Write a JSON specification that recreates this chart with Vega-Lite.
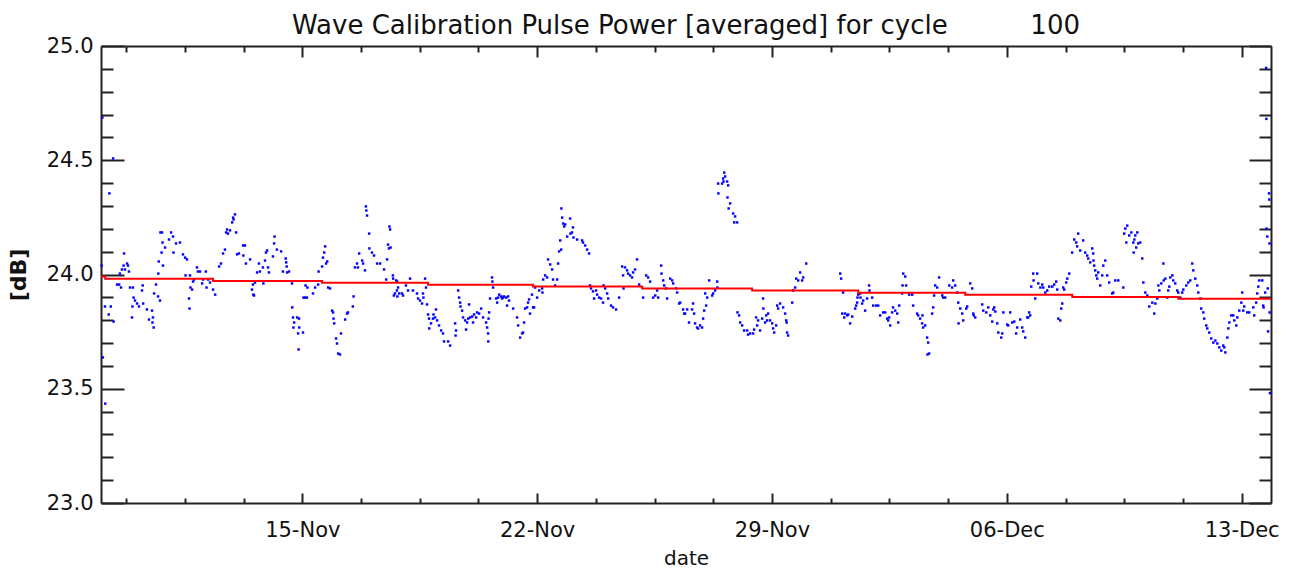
{
  "$schema": "https://vega.github.io/schema/vega-lite/v6.json",
  "width": 1170,
  "height": 457,
  "autosize": "none",
  "padding": {"left": 101, "top": 46, "right": 30, "bottom": 67},
  "background": "#ffffff",
  "config": {"view": {"stroke": null}, "font": "DejaVu Sans"},
  "title": {"text": "Wave Calibration Pulse Power [averaged] for cycle\u00a0\u00a0\u00a0\u00a0\u00a0\u00a0\u00a0\u00a0\u00a0\u00a0100", "font": "DejaVu Sans", "fontSize": 26, "fontWeight": "normal", "color": "#111111", "anchor": "middle", "offset": -4},
  "datasets": {
    "pts": [
      {"t":"2004-11-09T00:30","v":24.039},{"t":"2004-11-09T01:00","v":24.687},{"t":"2004-11-09T01:20","v":23.637},{"t":"2004-11-09T02:50","v":23.86},{"t":"2004-11-09T03:00","v":23.435},{"t":"2004-11-09T05:30","v":23.825},{"t":"2004-11-09T06:00","v":24.355},{"t":"2004-11-09T07:00","v":23.86},{"t":"2004-11-09T08:40","v":24.508},{"t":"2004-11-09T09:00","v":23.794},{"t":"2004-11-09T11:30","v":23.956},{"t":"2004-11-09T13:00","v":23.956},{"t":"2004-11-09T13:30","v":24.004},{"t":"2004-11-09T14:20","v":23.943},{"t":"2004-11-09T15:00","v":24.022},{"t":"2004-11-09T16:10","v":24.039},{"t":"2004-11-09T16:30","v":24.092},{"t":"2004-11-09T17:10","v":24.022},{"t":"2004-11-09T18:40","v":24.048},{"t":"2004-11-09T19:20","v":24.039},{"t":"2004-11-09T20:00","v":24.013},{"t":"2004-11-09T20:45","v":23.943},{"t":"2004-11-09T22:10","v":23.812},{"t":"2004-11-09T22:30","v":23.86},{"t":"2004-11-09T22:50","v":23.943},{"t":"2004-11-09T23:20","v":23.899},
      {"t":"2004-11-10T00:20","v":23.886},{"t":"2004-11-10T01:50","v":23.873},{"t":"2004-11-10T03:10","v":23.86},{"t":"2004-11-10T05:20","v":23.93},{"t":"2004-11-10T05:50","v":23.952},{"t":"2004-11-10T06:10","v":23.873},{"t":"2004-11-10T08:50","v":23.847},{"t":"2004-11-10T10:20","v":23.803},{"t":"2004-11-10T12:30","v":23.842},{"t":"2004-11-10T12:50","v":23.79},{"t":"2004-11-10T13:10","v":23.812},{"t":"2004-11-10T13:40","v":23.768},{"t":"2004-11-10T14:00","v":23.917},{"t":"2004-11-10T15:20","v":23.956},{"t":"2004-11-10T16:50","v":23.904},{"t":"2004-11-10T17:00","v":24.004},{"t":"2004-11-10T17:20","v":24.057},{"t":"2004-11-10T18:10","v":23.886},{"t":"2004-11-10T18:30","v":24.184},{"t":"2004-11-10T19:20","v":24.096},{"t":"2004-11-10T19:40","v":24.184},{"t":"2004-11-10T20:00","v":24.14},{"t":"2004-11-10T20:20","v":24.039},{"t":"2004-11-10T21:50","v":24.118},
      {"t":"2004-11-11T00:40","v":24.153},{"t":"2004-11-11T02:10","v":24.184},{"t":"2004-11-11T03:30","v":24.166},{"t":"2004-11-11T03:50","v":24.096},{"t":"2004-11-11T05:40","v":24.136},{"t":"2004-11-11T08:30","v":24.14},{"t":"2004-11-11T10:40","v":24.088},{"t":"2004-11-11T12:10","v":24.074},{"t":"2004-11-11T12:30","v":23.996},{"t":"2004-11-11T13:30","v":24.066},{"t":"2004-11-11T15:00","v":23.895},{"t":"2004-11-11T15:20","v":23.851},{"t":"2004-11-11T15:40","v":23.996},{"t":"2004-11-11T16:00","v":23.943},{"t":"2004-11-11T17:10","v":23.934},{"t":"2004-11-11T17:50","v":23.969},{"t":"2004-11-11T18:30","v":23.978},{"t":"2004-11-11T20:40","v":24.031},{"t":"2004-11-11T21:20","v":24.013},{"t":"2004-11-11T22:50","v":24.013},
      {"t":"2004-11-12T00:20","v":23.961},{"t":"2004-11-12T01:00","v":23.978},{"t":"2004-11-12T03:00","v":24.013},{"t":"2004-11-12T03:30","v":23.943},{"t":"2004-11-12T04:40","v":23.978},{"t":"2004-11-12T06:00","v":23.965},{"t":"2004-11-12T08:10","v":23.934},{"t":"2004-11-12T09:40","v":23.912},{"t":"2004-11-12T12:30","v":24.035},{"t":"2004-11-12T13:50","v":24.048},{"t":"2004-11-12T15:20","v":24.092},{"t":"2004-11-12T16:40","v":24.109},{"t":"2004-11-12T17:30","v":24.184},{"t":"2004-11-12T18:10","v":24.197},{"t":"2004-11-12T18:50","v":24.179},{"t":"2004-11-12T20:20","v":24.193},{"t":"2004-11-12T21:50","v":24.228},{"t":"2004-11-12T22:30","v":24.249},{"t":"2004-11-12T22:50","v":24.241},{"t":"2004-11-12T23:50","v":24.263},
      {"t":"2004-11-13T00:40","v":24.184},{"t":"2004-11-13T01:20","v":24.088},{"t":"2004-11-13T02:40","v":24.092},{"t":"2004-11-13T05:40","v":24.127},{"t":"2004-11-13T05:50","v":24.083},{"t":"2004-11-13T07:00","v":24.127},{"t":"2004-11-13T07:40","v":24.048},{"t":"2004-11-13T10:40","v":24.066},{"t":"2004-11-13T12:00","v":23.934},{"t":"2004-11-13T12:40","v":23.956},{"t":"2004-11-13T13:00","v":23.912},{"t":"2004-11-13T13:30","v":23.908},{"t":"2004-11-13T14:10","v":23.965},{"t":"2004-11-13T15:40","v":24.009},{"t":"2004-11-13T17:00","v":24.048},{"t":"2004-11-13T17:40","v":24.013},{"t":"2004-11-13T19:50","v":24.031},{"t":"2004-11-13T20:10","v":23.961},{"t":"2004-11-13T21:20","v":24.061},{"t":"2004-11-13T22:00","v":24.096},{"t":"2004-11-13T22:50","v":24.105},{"t":"2004-11-13T23:30","v":24.031},
      {"t":"2004-11-14T00:10","v":24.009},{"t":"2004-11-14T03:00","v":24.079},{"t":"2004-11-14T03:50","v":24.136},{"t":"2004-11-14T04:10","v":24.166},{"t":"2004-11-14T05:50","v":24.109},{"t":"2004-11-14T08:50","v":24.101},{"t":"2004-11-14T10:10","v":24.013},{"t":"2004-11-14T12:10","v":24.07},{"t":"2004-11-14T12:30","v":24.053},{"t":"2004-11-14T12:50","v":24.035},{"t":"2004-11-14T13:10","v":24.009},{"t":"2004-11-14T14:30","v":24.013},{"t":"2004-11-14T16:40","v":23.961},{"t":"2004-11-14T16:50","v":23.856},{"t":"2004-11-14T17:20","v":23.812},{"t":"2004-11-14T17:40","v":23.768},{"t":"2004-11-14T18:10","v":23.79},{"t":"2004-11-14T20:20","v":23.812},{"t":"2004-11-14T21:00","v":23.742},{"t":"2004-11-14T21:20","v":23.672},{"t":"2004-11-14T21:40","v":23.807},{"t":"2004-11-14T21:50","v":23.768},
      {"t":"2004-11-15T00:30","v":23.746},{"t":"2004-11-15T00:50","v":23.899},{"t":"2004-11-15T02:00","v":23.899},{"t":"2004-11-15T02:20","v":23.952},{"t":"2004-11-15T03:20","v":23.899},{"t":"2004-11-15T03:40","v":23.943},{"t":"2004-11-15T07:40","v":23.917},{"t":"2004-11-15T09:10","v":23.943},{"t":"2004-11-15T11:20","v":23.956},{"t":"2004-11-15T11:40","v":24.013},{"t":"2004-11-15T14:10","v":24.035},{"t":"2004-11-15T14:50","v":24.074},{"t":"2004-11-15T15:40","v":24.096},{"t":"2004-11-15T16:20","v":24.123},{"t":"2004-11-15T17:00","v":24.048},{"t":"2004-11-15T17:50","v":24.057},{"t":"2004-11-15T18:30","v":23.943},{"t":"2004-11-15T19:50","v":23.939},{"t":"2004-11-15T21:20","v":23.842},{"t":"2004-11-15T22:00","v":23.834},{"t":"2004-11-15T22:20","v":23.807},{"t":"2004-11-15T22:50","v":23.786},
      {"t":"2004-11-16T00:10","v":23.72},{"t":"2004-11-16T00:50","v":23.698},{"t":"2004-11-16T01:40","v":23.654},{"t":"2004-11-16T03:00","v":23.65},{"t":"2004-11-16T03:40","v":23.742},{"t":"2004-11-16T06:40","v":23.803},{"t":"2004-11-16T08:00","v":23.829},{"t":"2004-11-16T08:40","v":23.834},{"t":"2004-11-16T12:10","v":23.86},{"t":"2004-11-16T12:40","v":23.904},{"t":"2004-11-16T13:40","v":24.031},{"t":"2004-11-16T15:10","v":24.048},{"t":"2004-11-16T15:50","v":24.031},{"t":"2004-11-16T16:40","v":24.092},{"t":"2004-11-16T18:50","v":24.061},{"t":"2004-11-16T19:30","v":24.048},{"t":"2004-11-16T20:50","v":24.018},{"t":"2004-11-16T21:30","v":24.298},{"t":"2004-11-16T21:50","v":24.28},{"t":"2004-11-16T22:20","v":24.258},{"t":"2004-11-16T23:50","v":24.179},
      {"t":"2004-11-17T00:00","v":24.114},{"t":"2004-11-17T01:50","v":24.096},{"t":"2004-11-17T03:20","v":24.083},{"t":"2004-11-17T05:30","v":24.048},{"t":"2004-11-17T07:40","v":24.048},{"t":"2004-11-17T10:30","v":24.022},{"t":"2004-11-17T12:00","v":23.978},{"t":"2004-11-17T12:40","v":24.066},{"t":"2004-11-17T13:20","v":24.131},{"t":"2004-11-17T14:00","v":24.114},{"t":"2004-11-17T14:20","v":24.21},{"t":"2004-11-17T14:50","v":24.197},{"t":"2004-11-17T15:10","v":24.118},{"t":"2004-11-17T16:50","v":23.996},{"t":"2004-11-17T17:00","v":23.982},{"t":"2004-11-17T17:30","v":23.908},{"t":"2004-11-17T18:20","v":23.917},{"t":"2004-11-17T19:10","v":23.974},{"t":"2004-11-17T19:40","v":23.93},{"t":"2004-11-17T19:50","v":23.969},{"t":"2004-11-17T20:00","v":23.904},{"t":"2004-11-17T20:30","v":23.943},{"t":"2004-11-17T21:20","v":23.917},{"t":"2004-11-17T23:20","v":23.917},
      {"t":"2004-11-18T00:05","v":23.908},{"t":"2004-11-18T02:10","v":23.952},{"t":"2004-11-18T03:40","v":23.93},{"t":"2004-11-18T05:05","v":23.982},{"t":"2004-11-18T07:10","v":23.93},{"t":"2004-11-18T10:05","v":23.917},{"t":"2004-11-18T10:50","v":23.895},{"t":"2004-11-18T12:15","v":23.886},{"t":"2004-11-18T13:40","v":23.873},{"t":"2004-11-18T14:20","v":23.917},{"t":"2004-11-18T14:40","v":23.899},{"t":"2004-11-18T15:50","v":23.982},{"t":"2004-11-18T16:30","v":23.943},{"t":"2004-11-18T17:15","v":23.869},{"t":"2004-11-18T18:00","v":23.825},{"t":"2004-11-18T18:40","v":23.807},{"t":"2004-11-18T18:50","v":23.764},{"t":"2004-11-18T20:05","v":23.786},{"t":"2004-11-18T21:30","v":23.807},{"t":"2004-11-18T21:50","v":23.825},{"t":"2004-11-18T23:00","v":23.812},{"t":"2004-11-18T23:40","v":23.847},
      {"t":"2004-11-19T00:25","v":23.799},{"t":"2004-11-19T01:50","v":23.777},{"t":"2004-11-19T03:20","v":23.755},{"t":"2004-11-19T04:40","v":23.742},{"t":"2004-11-19T05:25","v":23.707},{"t":"2004-11-19T08:20","v":23.707},{"t":"2004-11-19T09:45","v":23.689},{"t":"2004-11-19T13:20","v":23.786},{"t":"2004-11-19T13:40","v":23.733},{"t":"2004-11-19T14:00","v":23.755},{"t":"2004-11-19T15:30","v":23.93},{"t":"2004-11-19T16:10","v":23.899},{"t":"2004-11-19T16:55","v":23.877},{"t":"2004-11-19T17:10","v":23.86},{"t":"2004-11-19T18:20","v":23.842},{"t":"2004-11-19T19:00","v":23.812},{"t":"2004-11-19T20:30","v":23.799},{"t":"2004-11-19T21:10","v":23.759},{"t":"2004-11-19T21:55","v":23.79},{"t":"2004-11-19T22:40","v":23.807},{"t":"2004-11-19T23:20","v":23.869},
      {"t":"2004-11-20T00:05","v":23.812},{"t":"2004-11-20T01:30","v":23.816},{"t":"2004-11-20T02:10","v":23.79},{"t":"2004-11-20T02:55","v":23.825},{"t":"2004-11-20T04:20","v":23.812},{"t":"2004-11-20T05:05","v":23.834},{"t":"2004-11-20T06:30","v":23.829},{"t":"2004-11-20T07:55","v":23.851},{"t":"2004-11-20T09:20","v":23.812},{"t":"2004-11-20T11:30","v":23.79},{"t":"2004-11-20T12:15","v":23.768},{"t":"2004-11-20T12:55","v":23.742},{"t":"2004-11-20T13:05","v":23.707},{"t":"2004-11-20T13:15","v":23.807},{"t":"2004-11-20T13:40","v":23.834},{"t":"2004-11-20T14:20","v":23.895},{"t":"2004-11-20T15:45","v":23.987},{"t":"2004-11-20T16:00","v":23.969},{"t":"2004-11-20T16:30","v":23.943},{"t":"2004-11-20T18:40","v":23.895},{"t":"2004-11-20T19:25","v":23.877},{"t":"2004-11-20T20:05","v":23.899},{"t":"2004-11-20T20:50","v":23.912},{"t":"2004-11-20T22:15","v":23.904},{"t":"2004-11-20T22:55","v":23.895},{"t":"2004-11-20T23:35","v":23.899},
      {"t":"2004-11-21T00:20","v":23.904},{"t":"2004-11-21T01:50","v":23.899},{"t":"2004-11-21T02:30","v":23.864},{"t":"2004-11-21T03:15","v":23.904},{"t":"2004-11-21T03:55","v":23.886},{"t":"2004-11-21T06:50","v":23.851},{"t":"2004-11-21T09:40","v":23.812},{"t":"2004-11-21T10:25","v":23.777},{"t":"2004-11-21T11:50","v":23.724},{"t":"2004-11-21T13:15","v":23.742},{"t":"2004-11-21T13:55","v":23.746},{"t":"2004-11-21T14:40","v":23.79},{"t":"2004-11-21T15:25","v":23.851},{"t":"2004-11-21T16:50","v":23.856},{"t":"2004-11-21T17:30","v":23.877},{"t":"2004-11-21T18:15","v":23.891},{"t":"2004-11-21T18:55","v":23.829},{"t":"2004-11-21T20:20","v":23.912},{"t":"2004-11-21T21:05","v":23.856},{"t":"2004-11-21T21:50","v":23.856},{"t":"2004-11-21T22:30","v":23.943},
      {"t":"2004-11-22T00:00","v":23.899},{"t":"2004-11-22T01:25","v":23.93},{"t":"2004-11-22T03:35","v":23.939},{"t":"2004-11-22T03:50","v":23.921},{"t":"2004-11-22T04:20","v":23.978},{"t":"2004-11-22T05:45","v":23.996},{"t":"2004-11-22T07:10","v":23.987},{"t":"2004-11-22T07:50","v":24.066},{"t":"2004-11-22T09:20","v":24.044},{"t":"2004-11-22T10:45","v":24.022},{"t":"2004-11-22T11:25","v":23.978},{"t":"2004-11-22T12:50","v":23.952},{"t":"2004-11-22T14:20","v":23.978},{"t":"2004-11-22T15:00","v":24.048},{"t":"2004-11-22T15:45","v":24.101},{"t":"2004-11-22T16:30","v":24.149},{"t":"2004-11-22T17:10","v":24.109},{"t":"2004-11-22T17:20","v":24.289},{"t":"2004-11-22T17:55","v":24.249},{"t":"2004-11-22T18:35","v":24.223},{"t":"2004-11-22T19:20","v":24.21},{"t":"2004-11-22T20:05","v":24.219},{"t":"2004-11-22T21:30","v":24.166},{"t":"2004-11-22T23:35","v":24.245},{"t":"2004-11-22T23:50","v":24.179},
      {"t":"2004-11-23T01:00","v":24.184},{"t":"2004-11-23T01:40","v":24.206},{"t":"2004-11-23T02:00","v":24.162},{"t":"2004-11-23T04:35","v":24.153},{"t":"2004-11-23T08:10","v":24.149},{"t":"2004-11-23T08:50","v":24.14},{"t":"2004-11-23T10:20","v":24.127},{"t":"2004-11-23T11:45","v":24.109},{"t":"2004-11-23T13:10","v":24.092},{"t":"2004-11-23T13:50","v":23.952},{"t":"2004-11-23T14:35","v":23.939},{"t":"2004-11-23T16:00","v":23.926},{"t":"2004-11-23T16:45","v":23.895},{"t":"2004-11-23T18:10","v":23.93},{"t":"2004-11-23T18:55","v":23.912},{"t":"2004-11-23T20:20","v":23.899},{"t":"2004-11-23T21:45","v":23.895},{"t":"2004-11-23T23:10","v":23.877},{"t":"2004-11-23T23:30","v":23.952},
      {"t":"2004-11-24T00:40","v":23.939},{"t":"2004-11-24T02:05","v":23.917},{"t":"2004-11-24T02:50","v":23.895},{"t":"2004-11-24T04:55","v":23.864},{"t":"2004-11-24T06:20","v":23.856},{"t":"2004-11-24T08:30","v":23.847},{"t":"2004-11-24T10:40","v":23.899},{"t":"2004-11-24T12:50","v":24.035},{"t":"2004-11-24T13:30","v":23.996},{"t":"2004-11-24T13:50","v":23.939},{"t":"2004-11-24T14:55","v":24.031},{"t":"2004-11-24T16:20","v":24.018},{"t":"2004-11-24T17:05","v":24.004},{"t":"2004-11-24T18:30","v":23.996},{"t":"2004-11-24T19:55","v":23.987},{"t":"2004-11-24T20:40","v":24.009},{"t":"2004-11-24T22:05","v":24.022},{"t":"2004-11-24T23:30","v":24.066},
      {"t":"2004-11-25T01:00","v":23.956},{"t":"2004-11-25T03:50","v":23.899},{"t":"2004-11-25T06:00","v":23.996},{"t":"2004-11-25T07:25","v":23.987},{"t":"2004-11-25T08:50","v":23.969},{"t":"2004-11-25T11:00","v":23.899},{"t":"2004-11-25T12:30","v":23.908},{"t":"2004-11-25T13:50","v":23.93},{"t":"2004-11-25T14:35","v":23.899},{"t":"2004-11-25T16:45","v":24.039},{"t":"2004-11-25T17:00","v":24.004},{"t":"2004-11-25T18:10","v":23.974},{"t":"2004-11-25T18:55","v":23.952},{"t":"2004-11-25T20:20","v":23.939},{"t":"2004-11-25T21:00","v":23.895},{"t":"2004-11-25T23:10","v":23.982},
      {"t":"2004-11-26T00:35","v":23.974},{"t":"2004-11-26T01:20","v":23.961},{"t":"2004-11-26T03:25","v":23.939},{"t":"2004-11-26T04:10","v":23.921},{"t":"2004-11-26T05:35","v":23.873},{"t":"2004-11-26T06:20","v":23.877},{"t":"2004-11-26T08:25","v":23.847},{"t":"2004-11-26T09:10","v":23.829},{"t":"2004-11-26T09:50","v":23.829},{"t":"2004-11-26T11:20","v":23.847},{"t":"2004-11-26T12:40","v":23.79},{"t":"2004-11-26T14:50","v":23.847},{"t":"2004-11-26T15:35","v":23.873},{"t":"2004-11-26T16:20","v":23.829},{"t":"2004-11-26T17:00","v":23.786},{"t":"2004-11-26T18:25","v":23.768},{"t":"2004-11-26T19:10","v":23.764},{"t":"2004-11-26T20:35","v":23.777},{"t":"2004-11-26T22:00","v":23.768},{"t":"2004-11-26T22:45","v":23.807},{"t":"2004-11-26T23:30","v":23.842},
      {"t":"2004-11-27T00:15","v":23.917},{"t":"2004-11-27T00:55","v":23.864},{"t":"2004-11-27T01:40","v":23.899},{"t":"2004-11-27T03:05","v":23.974},{"t":"2004-11-27T05:15","v":23.908},{"t":"2004-11-27T05:55","v":23.917},{"t":"2004-11-27T07:20","v":23.93},{"t":"2004-11-27T08:50","v":23.969},{"t":"2004-11-27T09:00","v":23.943},{"t":"2004-11-27T09:30","v":24.398},{"t":"2004-11-27T09:40","v":24.355},{"t":"2004-11-27T12:20","v":24.398},{"t":"2004-11-27T13:05","v":24.42},{"t":"2004-11-27T13:20","v":24.407},{"t":"2004-11-27T13:50","v":24.446},{"t":"2004-11-27T14:30","v":24.429},{"t":"2004-11-27T15:55","v":24.407},{"t":"2004-11-27T16:10","v":24.337},{"t":"2004-11-27T16:40","v":24.39},{"t":"2004-11-27T17:00","v":24.289},{"t":"2004-11-27T18:05","v":24.311},{"t":"2004-11-27T20:15","v":24.267},{"t":"2004-11-27T21:00","v":24.228},{"t":"2004-11-27T21:40","v":24.254},{"t":"2004-11-27T23:05","v":24.228},{"t":"2004-11-27T23:20","v":23.834},
      {"t":"2004-11-28T00:30","v":23.821},{"t":"2004-11-28T01:15","v":23.79},{"t":"2004-11-28T02:40","v":23.777},{"t":"2004-11-28T04:05","v":23.755},{"t":"2004-11-28T06:15","v":23.755},{"t":"2004-11-28T06:55","v":23.737},{"t":"2004-11-28T08:20","v":23.742},{"t":"2004-11-28T10:30","v":23.742},{"t":"2004-11-28T11:15","v":23.759},{"t":"2004-11-28T12:40","v":23.812},{"t":"2004-11-28T13:25","v":23.777},{"t":"2004-11-28T14:05","v":23.799},{"t":"2004-11-28T15:30","v":23.755},{"t":"2004-11-28T17:00","v":23.807},{"t":"2004-11-28T17:40","v":23.895},{"t":"2004-11-28T17:50","v":23.851},{"t":"2004-11-28T19:05","v":23.79},{"t":"2004-11-28T19:50","v":23.821},{"t":"2004-11-28T20:30","v":23.799},{"t":"2004-11-28T21:15","v":23.829},{"t":"2004-11-28T22:40","v":23.799},
      {"t":"2004-11-29T00:10","v":23.786},{"t":"2004-11-29T00:50","v":23.764},{"t":"2004-11-29T01:35","v":23.746},{"t":"2004-11-29T03:00","v":23.777},{"t":"2004-11-29T03:45","v":23.864},{"t":"2004-11-29T04:25","v":23.851},{"t":"2004-11-29T05:50","v":23.873},{"t":"2004-11-29T08:00","v":23.856},{"t":"2004-11-29T09:25","v":23.829},{"t":"2004-11-29T10:10","v":23.799},{"t":"2004-11-29T10:30","v":23.79},{"t":"2004-11-29T10:50","v":23.746},{"t":"2004-11-29T11:35","v":23.733},{"t":"2004-11-29T14:30","v":23.877},{"t":"2004-11-29T15:10","v":23.93},{"t":"2004-11-29T16:35","v":23.943},{"t":"2004-11-29T17:20","v":23.982},{"t":"2004-11-29T18:45","v":23.974},{"t":"2004-11-29T20:10","v":24.009},{"t":"2004-11-29T21:35","v":23.974},{"t":"2004-11-29T22:20","v":23.987},
      {"t":"2004-11-30T00:30","v":24.048},
      {"t":"2004-12-01T00:50","v":24.004},{"t":"2004-12-01T01:30","v":23.982},{"t":"2004-12-01T02:15","v":23.829},{"t":"2004-12-01T02:55","v":23.921},{"t":"2004-12-01T03:40","v":23.812},{"t":"2004-12-01T04:20","v":23.829},{"t":"2004-12-01T05:50","v":23.821},{"t":"2004-12-01T06:30","v":23.825},{"t":"2004-12-01T07:55","v":23.786},{"t":"2004-12-01T09:25","v":23.816},{"t":"2004-12-01T11:30","v":23.851},{"t":"2004-12-01T12:15","v":23.864},{"t":"2004-12-01T12:55","v":23.877},{"t":"2004-12-01T13:10","v":23.899},{"t":"2004-12-01T13:40","v":23.912},{"t":"2004-12-01T15:05","v":23.917},{"t":"2004-12-01T15:20","v":23.899},{"t":"2004-12-01T16:30","v":23.873},{"t":"2004-12-01T17:15","v":23.886},{"t":"2004-12-01T18:40","v":23.842},{"t":"2004-12-01T20:05","v":23.895},{"t":"2004-12-01T21:30","v":23.952},{"t":"2004-12-01T21:45","v":23.93},{"t":"2004-12-01T23:40","v":23.899},
      {"t":"2004-12-02T00:25","v":23.864},{"t":"2004-12-02T02:35","v":23.864},{"t":"2004-12-02T04:00","v":23.864},{"t":"2004-12-02T05:25","v":23.821},{"t":"2004-12-02T07:35","v":23.834},{"t":"2004-12-02T09:00","v":23.834},{"t":"2004-12-02T10:25","v":23.807},{"t":"2004-12-02T11:10","v":23.799},{"t":"2004-12-02T11:50","v":23.812},{"t":"2004-12-02T12:35","v":23.777},{"t":"2004-12-02T14:00","v":23.834},{"t":"2004-12-02T14:40","v":23.856},{"t":"2004-12-02T16:10","v":23.842},{"t":"2004-12-02T17:35","v":23.829},{"t":"2004-12-02T18:20","v":23.79},{"t":"2004-12-02T19:00","v":23.864},{"t":"2004-12-02T21:10","v":23.917},{"t":"2004-12-02T21:25","v":23.952},{"t":"2004-12-02T21:55","v":24.004},{"t":"2004-12-02T23:20","v":23.991},
      {"t":"2004-12-03T00:00","v":23.952},{"t":"2004-12-03T02:10","v":23.912},{"t":"2004-12-03T04:20","v":23.912},{"t":"2004-12-03T05:00","v":23.864},{"t":"2004-12-03T07:50","v":23.829},{"t":"2004-12-03T08:35","v":23.821},{"t":"2004-12-03T10:00","v":23.807},{"t":"2004-12-03T11:25","v":23.786},{"t":"2004-12-03T11:40","v":23.821},{"t":"2004-12-03T12:10","v":23.768},{"t":"2004-12-03T13:35","v":23.777},{"t":"2004-12-03T15:00","v":23.724},{"t":"2004-12-03T15:15","v":23.65},{"t":"2004-12-03T15:45","v":23.702},{"t":"2004-12-03T16:25","v":23.654},{"t":"2004-12-03T18:35","v":23.829},{"t":"2004-12-03T19:20","v":23.856},{"t":"2004-12-03T20:00","v":23.908},{"t":"2004-12-03T20:45","v":23.952},{"t":"2004-12-03T22:10","v":23.943},{"t":"2004-12-03T23:35","v":23.987},
      {"t":"2004-12-04T01:50","v":23.908},{"t":"2004-12-04T02:30","v":23.899},{"t":"2004-12-04T03:55","v":23.899},{"t":"2004-12-04T06:50","v":23.952},{"t":"2004-12-04T08:55","v":23.943},{"t":"2004-12-04T09:40","v":23.974},{"t":"2004-12-04T11:05","v":23.952},{"t":"2004-12-04T12:30","v":23.921},{"t":"2004-12-04T13:15","v":23.877},{"t":"2004-12-04T13:30","v":23.786},{"t":"2004-12-04T14:40","v":23.851},{"t":"2004-12-04T16:05","v":23.829},{"t":"2004-12-04T16:50","v":23.799},{"t":"2004-12-04T19:00","v":23.851},{"t":"2004-12-04T19:40","v":23.86},{"t":"2004-12-04T21:50","v":23.961},{"t":"2004-12-04T23:15","v":23.939},
      {"t":"2004-12-05T00:00","v":23.829},{"t":"2004-12-05T00:20","v":23.821},{"t":"2004-12-05T01:25","v":23.812},{"t":"2004-12-05T06:25","v":23.869},{"t":"2004-12-05T07:10","v":23.842},{"t":"2004-12-05T09:20","v":23.834},{"t":"2004-12-05T10:45","v":23.856},{"t":"2004-12-05T12:10","v":23.821},{"t":"2004-12-05T13:35","v":23.794},{"t":"2004-12-05T14:20","v":23.847},{"t":"2004-12-05T15:00","v":23.856},{"t":"2004-12-05T15:45","v":23.838},{"t":"2004-12-05T17:10","v":23.786},{"t":"2004-12-05T17:55","v":23.746},{"t":"2004-12-05T20:00","v":23.724},{"t":"2004-12-05T20:45","v":23.742},{"t":"2004-12-05T21:30","v":23.834},
      {"t":"2004-12-06T00:15","v":23.781},{"t":"2004-12-06T01:00","v":23.777},{"t":"2004-12-06T02:25","v":23.834},{"t":"2004-12-06T03:50","v":23.79},{"t":"2004-12-06T05:20","v":23.794},{"t":"2004-12-06T06:40","v":23.742},{"t":"2004-12-06T07:25","v":23.768},{"t":"2004-12-06T09:35","v":23.803},{"t":"2004-12-06T11:00","v":23.768},{"t":"2004-12-06T11:45","v":23.751},{"t":"2004-12-06T13:10","v":23.724},{"t":"2004-12-06T14:35","v":23.812},{"t":"2004-12-06T15:20","v":23.812},{"t":"2004-12-06T16:00","v":23.834},{"t":"2004-12-06T16:45","v":23.821},{"t":"2004-12-06T17:30","v":23.947},{"t":"2004-12-06T18:55","v":24.004},{"t":"2004-12-06T19:10","v":23.974},{"t":"2004-12-06T20:20","v":23.895},{"t":"2004-12-06T21:45","v":24.004},{"t":"2004-12-06T22:30","v":23.961},
      {"t":"2004-12-07T00:00","v":23.943},{"t":"2004-12-07T01:20","v":23.956},{"t":"2004-12-07T02:05","v":23.943},{"t":"2004-12-07T03:30","v":23.921},{"t":"2004-12-07T04:55","v":23.93},{"t":"2004-12-07T06:20","v":23.947},{"t":"2004-12-07T08:30","v":23.947},{"t":"2004-12-07T09:55","v":23.956},{"t":"2004-12-07T11:20","v":23.969},{"t":"2004-12-07T12:05","v":23.934},{"t":"2004-12-07T12:50","v":23.807},{"t":"2004-12-07T14:15","v":23.799},{"t":"2004-12-07T14:55","v":23.851},{"t":"2004-12-07T15:40","v":23.873},{"t":"2004-12-07T16:20","v":23.943},{"t":"2004-12-07T17:05","v":23.934},{"t":"2004-12-07T18:30","v":23.965},{"t":"2004-12-07T19:15","v":23.982},{"t":"2004-12-07T20:40","v":24.004},{"t":"2004-12-07T22:45","v":24.096},
      {"t":"2004-12-08T00:15","v":24.153},{"t":"2004-12-08T01:40","v":24.14},{"t":"2004-12-08T02:20","v":24.123},{"t":"2004-12-08T03:05","v":24.179},{"t":"2004-12-08T04:30","v":24.105},{"t":"2004-12-08T06:40","v":24.149},{"t":"2004-12-08T08:05","v":24.096},{"t":"2004-12-08T09:30","v":24.083},{"t":"2004-12-08T10:15","v":24.07},{"t":"2004-12-08T11:40","v":24.053},{"t":"2004-12-08T13:05","v":24.114},{"t":"2004-12-08T13:50","v":24.092},{"t":"2004-12-08T14:00","v":24.061},{"t":"2004-12-08T14:30","v":24.039},{"t":"2004-12-08T15:15","v":24.018},{"t":"2004-12-08T16:00","v":23.996},{"t":"2004-12-08T16:40","v":23.982},{"t":"2004-12-08T17:25","v":24.009},{"t":"2004-12-08T18:50","v":23.952},{"t":"2004-12-08T20:15","v":23.996},{"t":"2004-12-08T21:00","v":24.039},{"t":"2004-12-08T22:25","v":24.061},{"t":"2004-12-08T23:50","v":23.996},
      {"t":"2004-12-09T01:15","v":23.965},{"t":"2004-12-09T03:25","v":23.917},{"t":"2004-12-09T04:10","v":23.921},{"t":"2004-12-09T05:35","v":23.974},{"t":"2004-12-09T07:45","v":23.974},{"t":"2004-12-09T11:20","v":23.943},{"t":"2004-12-09T12:00","v":24.179},{"t":"2004-12-09T12:45","v":24.201},{"t":"2004-12-09T13:30","v":24.14},{"t":"2004-12-09T14:10","v":24.214},{"t":"2004-12-09T15:35","v":24.171},{"t":"2004-12-09T17:05","v":24.184},{"t":"2004-12-09T18:30","v":24.14},{"t":"2004-12-09T18:45","v":24.096},{"t":"2004-12-09T19:15","v":24.153},{"t":"2004-12-09T19:55","v":24.171},{"t":"2004-12-09T20:35","v":24.118},{"t":"2004-12-09T21:20","v":24.184},{"t":"2004-12-09T22:00","v":24.136},{"t":"2004-12-09T23:25","v":24.14},
      {"t":"2004-12-10T00:55","v":24.07},{"t":"2004-12-10T01:40","v":23.965},{"t":"2004-12-10T03:05","v":23.921},{"t":"2004-12-10T04:30","v":23.908},{"t":"2004-12-10T05:55","v":23.86},{"t":"2004-12-10T08:05","v":23.877},{"t":"2004-12-10T09:30","v":23.829},{"t":"2004-12-10T10:15","v":23.873},{"t":"2004-12-10T11:40","v":23.895},{"t":"2004-12-10T12:25","v":23.952},{"t":"2004-12-10T13:05","v":23.93},{"t":"2004-12-10T14:30","v":23.961},{"t":"2004-12-10T16:00","v":24.048},{"t":"2004-12-10T16:15","v":23.974},{"t":"2004-12-10T17:25","v":23.982},{"t":"2004-12-10T18:50","v":23.899},{"t":"2004-12-10T19:30","v":23.93},{"t":"2004-12-10T20:15","v":23.947},{"t":"2004-12-10T21:00","v":23.987},{"t":"2004-12-10T22:25","v":23.996},{"t":"2004-12-10T23:05","v":23.974},
      {"t":"2004-12-11T00:30","v":23.961},{"t":"2004-12-11T01:55","v":23.93},{"t":"2004-12-11T02:40","v":23.921},{"t":"2004-12-11T04:05","v":23.899},{"t":"2004-12-11T05:30","v":23.921},{"t":"2004-12-11T06:15","v":23.934},{"t":"2004-12-11T08:25","v":23.952},{"t":"2004-12-11T09:50","v":23.965},{"t":"2004-12-11T11:15","v":23.974},{"t":"2004-12-11T12:40","v":24.048},{"t":"2004-12-11T13:25","v":24.018},{"t":"2004-12-11T14:50","v":23.982},{"t":"2004-12-11T16:15","v":23.952},{"t":"2004-12-11T17:00","v":23.921},{"t":"2004-12-11T18:25","v":23.895},{"t":"2004-12-11T19:05","v":23.851},{"t":"2004-12-11T20:35","v":23.834},{"t":"2004-12-11T21:15","v":23.807},{"t":"2004-12-11T22:40","v":23.777},{"t":"2004-12-11T23:25","v":23.764},
      {"t":"2004-12-12T00:50","v":23.746},{"t":"2004-12-12T02:15","v":23.72},{"t":"2004-12-12T03:45","v":23.702},{"t":"2004-12-12T05:10","v":23.711},{"t":"2004-12-12T06:35","v":23.698},{"t":"2004-12-12T08:00","v":23.681},{"t":"2004-12-12T09:25","v":23.667},{"t":"2004-12-12T10:50","v":23.689},{"t":"2004-12-12T11:35","v":23.681},{"t":"2004-12-12T12:20","v":23.659},{"t":"2004-12-12T13:45","v":23.724},{"t":"2004-12-12T14:30","v":23.764},{"t":"2004-12-12T15:10","v":23.79},{"t":"2004-12-12T16:35","v":23.821},{"t":"2004-12-12T18:00","v":23.821},{"t":"2004-12-12T18:45","v":23.799},{"t":"2004-12-12T20:10","v":23.777},{"t":"2004-12-12T20:55","v":23.812},{"t":"2004-12-12T22:20","v":23.842},{"t":"2004-12-12T23:45","v":23.877},
      {"t":"2004-12-13T00:25","v":23.921},{"t":"2004-12-13T01:10","v":23.842},{"t":"2004-12-13T01:50","v":23.86},{"t":"2004-12-13T04:00","v":23.834},{"t":"2004-12-13T05:25","v":23.834},{"t":"2004-12-13T08:20","v":23.856},{"t":"2004-12-13T09:00","v":23.821},{"t":"2004-12-13T10:25","v":23.877},{"t":"2004-12-13T11:10","v":23.917},{"t":"2004-12-13T11:55","v":23.947},{"t":"2004-12-13T12:35","v":23.974},{"t":"2004-12-13T14:45","v":23.974},{"t":"2004-12-13T15:25","v":23.864},{"t":"2004-12-13T15:40","v":23.856},{"t":"2004-12-13T16:50","v":23.921},{"t":"2004-12-13T17:30","v":24.904},{"t":"2004-12-13T17:40","v":24.681},{"t":"2004-12-13T17:50","v":24.201},{"t":"2004-12-13T18:20","v":24.166},{"t":"2004-12-13T18:40","v":23.939},{"t":"2004-12-13T18:55","v":23.751},{"t":"2004-12-13T19:35","v":24.355},{"t":"2004-12-13T19:45","v":24.328},{"t":"2004-12-13T19:55","v":24.136},{"t":"2004-12-13T20:00","v":23.834},{"t":"2004-12-13T20:15","v":23.481}
    ],
    "fit": [
      {"t":"2004-11-09T00:00","v":23.991},{"t":"2004-11-09T03:00","v":23.981},{"t":"2004-11-12T08:10","v":23.972},{"t":"2004-11-15T14:10","v":23.964},{"t":"2004-11-18T18:00","v":23.955},{"t":"2004-11-21T21:05","v":23.947},{"t":"2004-11-25T03:10","v":23.939},{"t":"2004-11-28T09:50","v":23.93},{"t":"2004-12-01T13:40","v":23.92},{"t":"2004-12-04T18:15","v":23.911},{"t":"2004-12-07T22:50","v":23.902},{"t":"2004-12-11T02:40","v":23.894},{"t":"2004-12-13T21:00","v":23.894}
    ]
  },
  "resolve": {"axis": {"x": "independent", "y": "independent"}},
  "layer": [
    {
      "data": {"name": "pts"},
      "mark": {"type": "square", "size": 6, "color": "#0000ff", "opacity": 1},
      "encoding": {
        "x": {"field": "t", "type": "temporal",
          "scale": {"domain": [{"year": 2004, "month": 11, "date": 9, "hours": 0}, {"year": 2004, "month": 12, "date": 13, "hours": 21}], "nice": false},
          "axis": {"orient": "bottom", "title": "date", "titleFont": "DejaVu Sans", "titleFontSize": 20, "titleFontWeight": "normal", "titleColor": "#111111", "titlePadding": 3,
            "values": [{"year":2004,"month":11,"date":9,"hours":18},{"year":2004,"month":11,"date":11,"hours":12},{"year":2004,"month":11,"date":13,"hours":6},{"year":2004,"month":11,"date":15,"hours":0},{"year":2004,"month":11,"date":16,"hours":18},{"year":2004,"month":11,"date":18,"hours":12},{"year":2004,"month":11,"date":20,"hours":6},{"year":2004,"month":11,"date":22,"hours":0},{"year":2004,"month":11,"date":23,"hours":18},{"year":2004,"month":11,"date":25,"hours":12},{"year":2004,"month":11,"date":27,"hours":6},{"year":2004,"month":11,"date":29,"hours":0},{"year":2004,"month":11,"date":30,"hours":18},{"year":2004,"month":12,"date":2,"hours":12},{"year":2004,"month":12,"date":4,"hours":6},{"year":2004,"month":12,"date":6,"hours":0},{"year":2004,"month":12,"date":7,"hours":18},{"year":2004,"month":12,"date":9,"hours":12},{"year":2004,"month":12,"date":11,"hours":6},{"year":2004,"month":12,"date":13,"hours":0}],
            "labelExpr": "hours(datum.value) == 0 ? timeFormat(datum.value, '%d-%b') : ''",
            "labelFont": "DejaVu Sans", "labelFontSize": 21, "labelColor": "#111111", "labelFlush": false, "labelOverlap": false, "labelPadding": 26,
            "grid": false, "domainColor": "#222222", "domainWidth": 2, "tickColor": "#222222", "tickWidth": 2,
            "tickSize": {"condition": {"test": "hours(datum.value) == 0", "value": -10}, "value": -5}}
        },
        "y": {"field": "v", "type": "quantitative",
          "scale": {"domain": [23, 25], "nice": false, "zero": false},
          "axis": {"orient": "left", "title": "[dB]", "titleFont": "DejaVu Sans", "titleFontSize": 22, "titleFontWeight": "bold", "titleColor": "#111111", "titlePadding": 16,
            "values": [23, 23.1, 23.2, 23.3, 23.4, 23.5, 23.6, 23.7, 23.8, 23.9, 24, 24.1, 24.2, 24.3, 24.4, 24.5, 24.6, 24.7, 24.8, 24.9, 25],
            "labelExpr": "abs(datum.value * 2 - round(datum.value * 2)) < 0.01 ? format(datum.value, '.1f') : ''",
            "labelFont": "DejaVu Sans", "labelFontSize": 21, "labelColor": "#111111", "labelFlush": false, "labelOverlap": false, "labelPadding": 31,
            "grid": false, "domainColor": "#222222", "domainWidth": 2, "tickColor": "#222222", "tickWidth": 2,
            "tickSize": {"condition": {"test": "abs(datum.value * 2 - round(datum.value * 2)) < 0.01", "value": -23}, "value": -12}}
        }
      }
    },
    {
      "data": {"name": "fit"},
      "mark": {"type": "line", "interpolate": "step-after", "color": "#ff0000", "strokeWidth": 2},
      "encoding": {
        "x": {"field": "t", "type": "temporal",
          "axis": {"orient": "top", "title": null, "labels": false,
            "values": [{"year":2004,"month":11,"date":9,"hours":18},{"year":2004,"month":11,"date":11,"hours":12},{"year":2004,"month":11,"date":13,"hours":6},{"year":2004,"month":11,"date":15,"hours":0},{"year":2004,"month":11,"date":16,"hours":18},{"year":2004,"month":11,"date":18,"hours":12},{"year":2004,"month":11,"date":20,"hours":6},{"year":2004,"month":11,"date":22,"hours":0},{"year":2004,"month":11,"date":23,"hours":18},{"year":2004,"month":11,"date":25,"hours":12},{"year":2004,"month":11,"date":27,"hours":6},{"year":2004,"month":11,"date":29,"hours":0},{"year":2004,"month":11,"date":30,"hours":18},{"year":2004,"month":12,"date":2,"hours":12},{"year":2004,"month":12,"date":4,"hours":6},{"year":2004,"month":12,"date":6,"hours":0},{"year":2004,"month":12,"date":7,"hours":18},{"year":2004,"month":12,"date":9,"hours":12},{"year":2004,"month":12,"date":11,"hours":6},{"year":2004,"month":12,"date":13,"hours":0}],
            "grid": false, "domainColor": "#222222", "domainWidth": 2, "tickColor": "#222222", "tickWidth": 2,
            "tickSize": {"condition": {"test": "hours(datum.value) == 0", "value": -11}, "value": -6}}
        },
        "y": {"field": "v", "type": "quantitative",
          "axis": {"orient": "right", "title": null, "labels": false,
            "values": [23, 23.1, 23.2, 23.3, 23.4, 23.5, 23.6, 23.7, 23.8, 23.9, 24, 24.1, 24.2, 24.3, 24.4, 24.5, 24.6, 24.7, 24.8, 24.9, 25],
            "grid": false, "domainColor": "#222222", "domainWidth": 2, "tickColor": "#222222", "tickWidth": 2,
            "tickSize": {"condition": {"test": "abs(datum.value * 2 - round(datum.value * 2)) < 0.01", "value": -22}, "value": -12}}
        }
      }
    }
  ]
}
